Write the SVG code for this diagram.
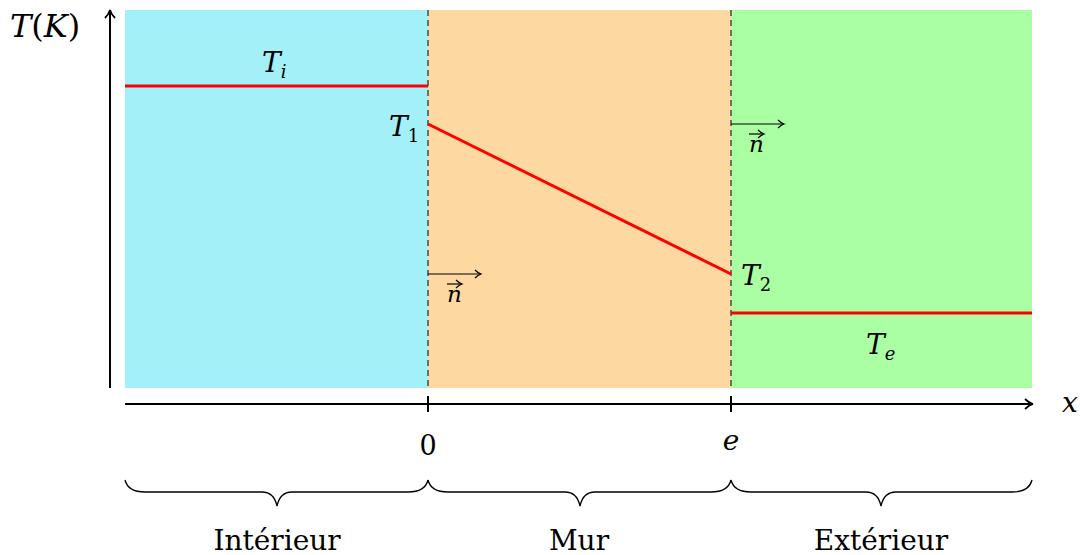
<svg xmlns="http://www.w3.org/2000/svg" width="1080" height="555" viewBox="0 0 1080 555">
<style>
.m{font-style:italic;fill:#000}
.r{fill:#000}
.red{stroke:#ff0000;stroke-width:3;fill:none}
.ax{stroke:#000;stroke-width:2;fill:none}
.dash{stroke:#333;stroke-width:1.3;stroke-dasharray:6,4;fill:none}
.brace{stroke:#000;stroke-width:1.3;fill:none}
.nv{stroke:#000;stroke-width:1.2;fill:none}
</style>
<defs>
<marker id="ah" markerWidth="12" markerHeight="12" refX="9" refY="6" orient="auto" markerUnits="userSpaceOnUse">
<path d="M2,1 Q6,5 10,6 Q6,7 2,11" fill="none" stroke="#000" stroke-width="1.8"/>
</marker>
<marker id="ahs" markerWidth="10" markerHeight="10" refX="8" refY="5" orient="auto" markerUnits="userSpaceOnUse">
<path d="M2,1 Q5,4 8,5 Q5,6 2,9" fill="none" stroke="#000" stroke-width="1.2"/>
</marker>
</defs>
<g id="zones">
<rect id="interieur" x="125" y="10" width="303" height="378" fill="#a3f0f8"/>
<rect id="mur" x="428" y="10" width="303" height="378" fill="#fdd9a1"/>
<rect id="exterieur" x="731" y="10" width="301" height="378" fill="#aaffa3"/>
</g>
<g id="connectors">
<line class="dash" x1="428" y1="10" x2="428" y2="388"/>
<line class="dash" x1="731" y1="10" x2="731" y2="388"/>
<line class="ax" x1="110" y1="388" x2="110" y2="11" marker-end="url(#ah)"/>
<line class="ax" x1="125" y1="404" x2="1032" y2="404" marker-end="url(#ah)"/>
<line class="ax" x1="428" y1="396" x2="428" y2="412" stroke-width="1.5"/>
<line class="ax" x1="731" y1="396" x2="731" y2="412" stroke-width="1.5"/>
<line class="red" x1="125" y1="86" x2="428" y2="86"/>
<line class="red" x1="428" y1="124" x2="731" y2="274"/>
<line class="red" x1="731" y1="313" x2="1032" y2="313"/>
<line class="nv" x1="428" y1="274" x2="481" y2="274" marker-end="url(#ahs)"/>
<line class="nv" x1="731" y1="124" x2="784" y2="124" marker-end="url(#ahs)"/>
<path class="brace" d="M125,480 Q128,492 145,492 L262,492 Q274,492 277,506 Q280,492 292,492 L408,492 Q425,492 428,480"/>
<path class="brace" d="M428,480 Q431,492 448,492 L565,492 Q577,492 580,506 Q583,492 595,492 L711,492 Q728,492 731,480"/>
<path class="brace" d="M731,480 Q734,492 751,492 L866,492 Q878,492 881,506 Q884,492 896,492 L1012,492 Q1029,492 1032,480"/>
</g>
<g id="labels" font-family="DejaVu Serif, serif">
<text class="m" x="10" y="37" font-size="32">T<tspan font-style="normal">(</tspan>K<tspan font-style="normal">)</tspan></text>
<text class="m" x="262" y="72" font-size="28">T<tspan font-size="18" dy="6">i</tspan></text>
<text class="m" x="389" y="136" font-size="28">T<tspan font-style="normal" font-size="18" dy="6">1</tspan></text>
<text class="m" x="741" y="285" font-size="28">T<tspan font-style="normal" font-size="18" dy="6">2</tspan></text>
<text class="m" x="866" y="354" font-size="28">T<tspan font-size="18" dy="6">e</tspan></text>
<text class="m" x="447" y="302" font-size="23">n</text>
<text class="m" x="749" y="152" font-size="23">n</text>
<line class="nv" x1="447" y1="284" x2="462" y2="284" marker-end="url(#ahs)"/>
<line class="nv" x1="749" y1="134" x2="764" y2="134" marker-end="url(#ahs)"/>
<text class="r" x="428" y="455" font-size="27" text-anchor="middle">0</text>
<text class="m" x="731" y="450" font-size="28" text-anchor="middle">e</text>
<text class="m" x="1070" y="412" font-size="28" text-anchor="middle">x</text>
<text class="r" x="277" y="550" font-size="28" text-anchor="middle">Intérieur</text>
<text class="r" x="579" y="550" font-size="28" text-anchor="middle">Mur</text>
<text class="r" x="881" y="550" font-size="28" text-anchor="middle">Extérieur</text>
</g>
</svg>
